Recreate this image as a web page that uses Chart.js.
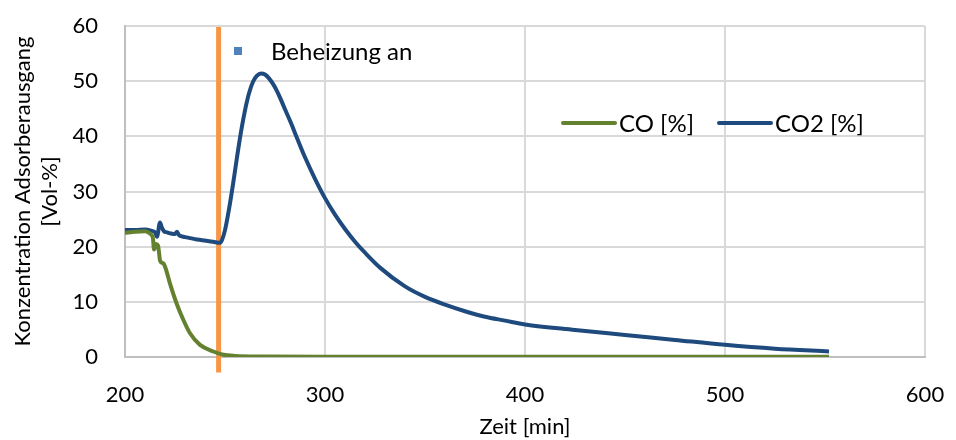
<!DOCTYPE html>
<html>
<head>
<meta charset="utf-8">
<script src="https://cdn.jsdelivr.net/npm/chart.js@4/dist/chart.umd.min.js"></script>
<style>
  html, body { margin: 0; padding: 0; background: #fff; }
  #wrap { width: 956px; height: 440px; }
</style>
</head>
<body>
<div id="wrap"><canvas id="chart" width="956" height="440"></canvas></div>
<script>
// values (time in min, concentration in Vol-%)
const coTime = [200, 205, 210, 212, 213.5, 214, 214.5, 215.5, 216.5, 217, 217.5, 219, 220, 222.5, 225.8, 229.2, 232.5, 237.5, 244.2, 249.2, 255, 270, 300, 400, 500, 552]
const coVal  = [22.5, 22.7, 22.8, 22.5, 22.0, 21.5, 19.5, 20.5, 20.2, 19.0, 17.5, 17.0, 16.4, 13.3, 9.7, 6.7, 4.3, 2.2, 1.0, 0.4, 0.2, 0.1, 0.05, 0.05, 0.05, 0.05]

const co2Time = [200, 205, 210, 213, 215, 216, 217.5, 218.5, 219.5, 221, 223, 225, 226, 227, 228, 232, 236, 240, 244, 247.5, 248.5, 250, 252, 254, 256, 258, 260, 262, 264, 266, 268, 270, 272, 274, 276, 278, 280, 283, 286, 290, 295, 300, 305, 310, 315, 320, 327.5, 340, 350, 360, 370, 380, 390, 400, 425, 450, 475, 500, 525, 552]
const co2Val  = [23.0, 23.0, 23.1, 22.9, 22.6, 21.8, 24.4, 23.4, 22.8, 22.6, 22.4, 22.3, 22.7, 22.1, 21.9, 21.6, 21.3, 21.1, 20.9, 20.7, 21.2, 23.0, 26.8, 31.3, 36.2, 40.8, 44.7, 47.8, 49.9, 51.0, 51.4, 51.2, 50.5, 49.5, 48.2, 46.6, 44.9, 42.4, 39.7, 36.2, 32.3, 28.8, 25.8, 23.2, 20.9, 18.9, 16.2, 12.8, 10.9, 9.5, 8.3, 7.3, 6.6, 5.9, 4.9, 4.0, 3.1, 2.2, 1.5, 1.0]

// heating switched on (vertical marker)
const heatTime = [246.8, 246.8]
const heatVal  = [-2.8, 59.8]

const xTicks = [200, 300, 400, 500, 600]
const yTicks = [0, 10, 20, 30, 40, 50, 60]

const labelCO = "CO [%]"
const labelCO2 = "CO2 [%]"
const labelHeat = "Beheizung an"

function toPoints(xs, ys){
    return xs.map((x, i) => ({x: x, y: ys[i]}))
}

const fontFam = "Lato, 'Open Sans', sans-serif"

// draws the two legend groups the way the original has them
const legendPlugin = {
    id: 'customLegend',
    afterDatasetsDraw(chart){
        const ctx = chart.ctx
        ctx.save()
        ctx.font = "24px " + fontFam
        ctx.textBaseline = "middle"
        ctx.textAlign = "left"

        // heating marker entry
        ctx.fillStyle = "#4f81bd"
        ctx.fillRect(234, 47, 8, 8)
        ctx.fillStyle = "#000"
        ctx.fillText(labelHeat, 271, 52)

        // line entries
        const items = [
            {label: labelCO, color: chart.data.datasets[0].borderColor, x: 563},
            {label: labelCO2, color: chart.data.datasets[1].borderColor, x: 719}
        ]
        items.forEach(it => {
            ctx.strokeStyle = it.color
            ctx.lineWidth = 4
            ctx.lineCap = "round"
            ctx.beginPath()
            ctx.moveTo(it.x, 123)
            ctx.lineTo(it.x + 52, 123)
            ctx.stroke()
            ctx.fillText(it.label, it.x + 56, 124)
        })
        ctx.restore()
    }
}

const ctx = document.getElementById('chart').getContext('2d')

new Chart(ctx, {
    type: 'line',
    data: {
        datasets: [
            {
                label: labelCO,
                data: toPoints(coTime, coVal),
                borderColor: '#63812f',
                borderWidth: 4,
                pointRadius: 0,
                cubicInterpolationMode: 'monotone',
                fill: false
            },
            {
                label: labelCO2,
                data: toPoints(co2Time, co2Val),
                borderColor: '#1f4a7e',
                borderWidth: 4,
                pointRadius: 0,
                cubicInterpolationMode: 'monotone',
                fill: false
            },
            {
                label: labelHeat,
                data: toPoints(heatTime, heatVal),
                borderColor: '#f79646',
                borderWidth: 5,
                pointRadius: 0,
                clip: false,
                fill: false
            }
        ]
    },
    options: {
        responsive: false,
        animation: false,
        layout: { padding: { top: 26, right: 31, left: 0, bottom: 0 } },
        plugins: {
            legend: { display: false },
            tooltip: { enabled: false }
        },
        scales: {
            x: {
                type: 'linear',
                min: 200,
                max: 600,
                afterBuildTicks: s => { s.ticks = xTicks.map(v => ({value: v})) },
                afterFit: s => { s.height = 83; s.paddingLeft = 0; s.paddingRight = 0 },
                grid: { color: '#d9d9d9', lineWidth: 2, drawTicks: false },
                border: { color: '#bfbfbf', width: 2 },
                ticks: { font: { family: fontFam, size: 22 }, color: '#000', padding: 25, maxRotation: 0 },
                title: { display: true, text: 'Zeit [min]', font: { family: fontFam, size: 22 }, color: '#000', padding: { top: 0, bottom: 0 } }
            },
            y: {
                min: 0,
                max: 60,
                afterBuildTicks: s => { s.ticks = yTicks.map(v => ({value: v})) },
                afterFit: s => { s.width = 125; s.paddingTop = 0; s.paddingBottom = 0 },
                grid: { color: '#d9d9d9', lineWidth: 2, drawTicks: false },
                border: { color: '#bfbfbf', width: 2 },
                ticks: { font: { family: fontFam, size: 22 }, color: '#000', padding: 27 },
                title: { display: true, text: ['Konzentration Adsorberausgang', '[Vol-%]'], font: { family: fontFam, size: 22, lineHeight: 1.23 }, color: '#000', padding: { top: 9.5 } }
            }
        }
    },
    plugins: [legendPlugin]
})
</script>
</body>
</html>
